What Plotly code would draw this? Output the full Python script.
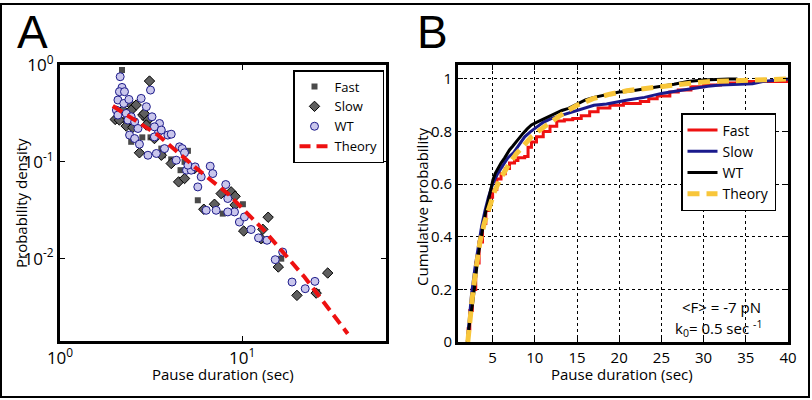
import plotly.graph_objects as go

# ---- panel A: pause duration distribution (log-log) ----
fast_x = [2.19, 2.83, 2.46, 3.14, 3.67, 4.59, 5.04, 5.71, 7.83, 10.1, 13.0, 16.4, 25.8,
          2.68, 4.08, 4.83, 2.22, 3.60, 2.90]
fast_y = [0.888, 0.179, 0.161, 0.179, 0.117, 0.082, 0.130, 0.0401, 0.0292, 0.0365, 0.0155,
          0.0100, 0.00452, 0.221, 0.106, 0.100, 0.270, 0.137, 0.290]

slow_x = [3.10, 2.41, 2.22, 2.62, 2.01, 2.12, 2.31, 2.51, 2.85, 3.04, 2.98, 2.73, 3.30, 3.60,
          4.08, 4.48, 4.83, 5.48, 6.16, 7.05, 7.67, 8.70, 9.15, 9.15, 10.2, 13.0, 13.9, 12.7,
          15.8, 20.0, 29.5, 25.5, 2.46, 2.90]
slow_y = [0.683, 0.401, 0.342, 0.386, 0.274, 0.270, 0.234, 0.227, 0.304, 0.270, 0.240, 0.124,
          0.174, 0.117, 0.0961, 0.0621, 0.0673, 0.0853, 0.0324, 0.0365, 0.047, 0.049, 0.0441,
          0.0359, 0.0193, 0.0201, 0.0268, 0.0161, 0.0082, 0.00418, 0.00711, 0.00441, 0.342, 0.316]

wt_x = [2.14, 2.19, 2.12, 2.26, 2.08, 2.24, 2.39, 2.04, 2.31, 2.46, 2.79, 2.98, 3.20, 3.14,
        2.08, 2.36, 2.57, 2.68, 2.41, 2.57, 2.73, 3.04, 3.38, 3.52, 3.48, 3.30, 3.60, 3.91,
        3.30, 3.75, 4.08, 4.53, 4.69, 4.83, 4.95, 5.25, 5.04, 5.52, 5.71, 5.96, 6.35, 6.68,
        6.90, 7.20, 8.13, 8.34, 9.08, 8.34, 9.66, 10.3, 11.2, 12.3, 13.7, 15.2, 16.7, 18.8,
        22.2, 25.1, 4.35]
wt_y = [0.757, 0.587, 0.530, 0.530, 0.435, 0.401, 0.441, 0.342, 0.316, 0.292, 0.452, 0.371,
        0.292, 0.551, 0.304, 0.270, 0.259, 0.221, 0.189, 0.174, 0.152, 0.117, 0.122, 0.249,
        0.204, 0.230, 0.213, 0.189, 0.181, 0.137, 0.193, 0.143, 0.137, 0.124, 0.082, 0.082,
        0.0924, 0.0887, 0.0551, 0.070, 0.0316, 0.0902, 0.0757, 0.0316, 0.0583, 0.0418, 0.0304,
        0.0304, 0.0239, 0.027, 0.020, 0.0164, 0.0155, 0.00977, 0.0117, 0.00574, 0.0049,
        0.00583, 0.104]

theory_a_x = [1.95, 2.68, 3.45, 5.48, 8.34, 13.2, 22.0, 38.0]
theory_a_y = [0.377, 0.259, 0.189, 0.0887, 0.047, 0.0196, 0.00646, 0.00168]

# ---- panel B: cumulative probability ----
cdf_fast_x = [2.0, 2.1, 2.3, 2.6, 3.0, 3.4, 3.8, 4.2, 4.6, 5.0, 5.5, 6.0, 6.5, 7.0, 7.6, 8.0,
              8.8, 9.2, 9.6, 10.2, 11.0, 11.8, 12.6, 13.5, 14.5, 15.5, 16.5, 17.5, 18.9, 20.5,
              22.5, 23.5, 24.5, 26.0, 27.0, 28.5, 30.0, 32.0, 34.0, 36.0, 40.0]
cdf_fast_y = [0.0, 0.05, 0.12, 0.2, 0.3, 0.38, 0.45, 0.5, 0.55, 0.58, 0.62, 0.64, 0.66, 0.68,
              0.69, 0.70, 0.705, 0.74, 0.76, 0.78, 0.80, 0.82, 0.84, 0.845, 0.85, 0.86, 0.875,
              0.89, 0.90, 0.907, 0.914, 0.925, 0.935, 0.95, 0.958, 0.97, 0.977, 0.985, 0.99,
              0.99, 1.0]

cdf_slow_x = [2.0, 2.2, 2.5, 2.9, 3.3, 3.7, 4.1, 4.5, 5.0, 5.6, 6.2, 6.8, 7.5, 8.2, 8.8, 9.5,
              10.3, 11.0, 12.0, 13.0, 14.0, 15.0, 16.0, 17.0, 18.5, 20.0, 21.0, 23.0, 25.0,
              27.0, 28.8, 30.5, 32.0, 34.0, 35.8, 37.0, 40.0]
cdf_slow_y = [0.0, 0.08, 0.18, 0.28, 0.37, 0.44, 0.5, 0.55, 0.6, 0.64, 0.67, 0.70, 0.72, 0.75,
              0.78, 0.80, 0.82, 0.835, 0.85, 0.86, 0.87, 0.88, 0.89, 0.90, 0.905, 0.915, 0.92,
              0.93, 0.945, 0.955, 0.965, 0.972, 0.977, 0.98, 0.982, 0.99, 1.0]

cdf_wt_x = [2.0, 2.06, 2.3, 2.65, 3.0, 3.25, 3.55, 3.85, 4.15, 4.44, 4.75, 5.04, 5.3, 5.63, 6.0,
            6.43, 7.0, 7.4, 7.82, 8.2, 8.6, 9.1, 9.6, 10.2, 10.8, 11.6, 12.4, 13.2, 14.0, 15.0,
            16.0, 17.0, 18.5, 20.0, 21.0, 23.0, 24.9, 26.5, 28.1, 30.0, 33.0, 34.0]
cdf_wt_y = [0.0, 0.02, 0.08, 0.15, 0.25, 0.32, 0.38, 0.44, 0.49, 0.53, 0.575, 0.616, 0.64, 0.66,
            0.68, 0.70, 0.73, 0.745, 0.762, 0.78, 0.793, 0.81, 0.825, 0.835, 0.844, 0.858, 0.87,
            0.88, 0.888, 0.905, 0.92, 0.93, 0.94, 0.95, 0.952, 0.962, 0.971, 0.98, 0.99, 0.996,
            1.0, 1.0]

theory_b_x = [2.06, 2.3, 2.6, 3.0, 3.5, 4.0, 4.64, 5.2, 5.83, 6.4, 7.02, 7.8, 8.6, 9.6, 10.6,
              12.0, 13.4, 15.0, 16.9, 18.9, 20.9, 22.9, 24.9, 26.9, 28.8, 30.8, 34.8, 38.8, 40.0]
theory_b_y = [0.0, 0.09, 0.17, 0.27, 0.38, 0.45, 0.52, 0.57, 0.616, 0.65, 0.68, 0.715, 0.743,
              0.78, 0.806, 0.84, 0.87, 0.9, 0.925, 0.942, 0.955, 0.963, 0.972, 0.978, 0.985,
              0.99, 0.995, 0.999, 1.0]

W, H = 812, 400

def px_x(p):
    return p / W

def px_y(p):
    return 1 - p / H

fig = go.Figure()

fig.add_trace(go.Scatter(x=fast_x, y=fast_y, mode="markers", name="Fast",
                         marker=dict(symbol="square", size=6, color="#4a4a4a"),
                         xaxis="x", yaxis="y", legend="legend"))
fig.add_trace(go.Scatter(x=slow_x, y=slow_y, mode="markers", name="Slow",
                         marker=dict(symbol="diamond", size=8, color="#5f5f5f",
                                     line=dict(color="black", width=1)),
                         xaxis="x", yaxis="y", legend="legend"))
fig.add_trace(go.Scatter(x=wt_x, y=wt_y, mode="markers", name="WT",
                         marker=dict(symbol="circle", size=8, color="#c9c6ec",
                                     line=dict(color="#1c1a8a", width=1)),
                         xaxis="x", yaxis="y", legend="legend"))
fig.add_trace(go.Scatter(x=theory_a_x, y=theory_a_y, mode="lines", name="Theory",
                         line=dict(color="#ee1111", width=4, dash="11px,6px"),
                         xaxis="x", yaxis="y", legend="legend"))

fig.add_trace(go.Scatter(x=cdf_fast_x, y=cdf_fast_y, mode="lines", name="Fast", line_shape="hv",
                         line=dict(color="#ee1111", width=3),
                         xaxis="x2", yaxis="y2", legend="legend2"))
fig.add_trace(go.Scatter(x=cdf_slow_x, y=cdf_slow_y, mode="lines", name="Slow",
                         line=dict(color="#1a1a8c", width=3),
                         xaxis="x2", yaxis="y2", legend="legend2"))
fig.add_trace(go.Scatter(x=cdf_wt_x, y=cdf_wt_y, mode="lines", name="WT",
                         line=dict(color="black", width=3),
                         xaxis="x2", yaxis="y2", legend="legend2"))
fig.add_trace(go.Scatter(x=theory_b_x, y=theory_b_y, mode="lines", name="Theory",
                         line=dict(color="#f8c63a", width=5, dash="12px,7px"),
                         xaxis="x2", yaxis="y2", legend="legend2"))

frame = dict(showline=True, linewidth=3, linecolor="black", mirror="allticks",
             ticks="inside", ticklen=5, tickcolor="black", zeroline=False, automargin=False)

fig.update_layout(
    width=W, height=H,
    margin=dict(l=0, r=0, t=0, b=0, autoexpand=False),
    paper_bgcolor="white", plot_bgcolor="white",
    font=dict(family="Open Sans", size=15, color="black"),
    xaxis=dict(type="log", domain=[px_x(60), px_x(386)], range=[0, 1.79], anchor="y",
               tickvals=[1, 10], ticktext=["10<sup>0</sup>", "10<sup>1</sup>"],
               tickfont=dict(size=17), showgrid=False, **frame),
    yaxis=dict(type="log", domain=[px_y(341), px_y(65)], range=[-2.85, 0], anchor="x",
               tickvals=[0.01, 0.1, 1],
               ticktext=["10<sup>-2</sup>", "10<sup>-1</sup>", "10<sup>0</sup>"],
               tickfont=dict(size=17), showgrid=False, **frame),
    xaxis2=dict(domain=[px_x(458), px_x(788)], range=[0.9, 40], anchor="y2",
                tickvals=[5, 10, 15, 20, 25, 30, 35, 40], tickfont=dict(size=15),
                showgrid=True, gridcolor="black", gridwidth=1, griddash="dot", **frame),
    yaxis2=dict(domain=[px_y(342), px_y(65)], range=[0, 1.053], anchor="x2",
                tickvals=[0, 0.2, 0.4, 0.6, 0.8, 1], ticktext=["0", "0.2", "0.4", "0.6", "0.8", "1"],
                tickfont=dict(size=15),
                showgrid=True, gridcolor="black", gridwidth=1, griddash="dot", **frame),
    legend=dict(x=px_x(293), y=px_y(70), xanchor="left", yanchor="top",
                bgcolor="white", bordercolor="black", borderwidth=1.5,
                font=dict(size=13), itemwidth=30, tracegroupgap=0),
    legend2=dict(x=px_x(681), y=px_y(113), xanchor="left", yanchor="top",
                 bgcolor="white", bordercolor="black", borderwidth=1.5,
                 font=dict(size=14), itemwidth=30, tracegroupgap=0),
)

annots = [
    dict(text="A", x=px_x(32), y=px_y(32), font=dict(size=46, family="Liberation Sans")),
    dict(text="B", x=px_x(432), y=px_y(32), font=dict(size=46, family="Liberation Sans")),
    dict(text="Probability density", x=px_x(21), y=px_y(203), textangle=-90, font=dict(size=15)),
    dict(text="Pause duration (sec)", x=px_x(223), y=px_y(374), font=dict(size=15)),
    dict(text="Cumulative probability", x=px_x(422), y=px_y(207), textangle=-90, font=dict(size=15)),
    dict(text="Pause duration (sec)", x=px_x(622), y=px_y(374), font=dict(size=15)),
    dict(text="&lt;F&gt; = -7 pN", x=px_x(763), y=px_y(307), xanchor="right", font=dict(size=15)),
    dict(text="k<sub>0</sub>= 0.5 sec <sup>-1</sup>", x=px_x(764), y=px_y(328), xanchor="right",
         font=dict(size=15)),
]
for a in annots:
    a.setdefault("xanchor", "center")
    fig.add_annotation(xref="paper", yref="paper", yanchor="middle", showarrow=False, **a)

# outer frame around whole figure
fig.add_shape(type="rect", xref="paper", yref="paper",
              x0=px_x(1), x1=px_x(809), y0=px_y(397), y1=px_y(4),
              line=dict(color="black", width=2))

# drop the browser's default body margin so the figure sits at the window corner
fig.write_html("out.html", config={"displayModeBar": False},
               post_script="document.body.style.margin='0px';")
